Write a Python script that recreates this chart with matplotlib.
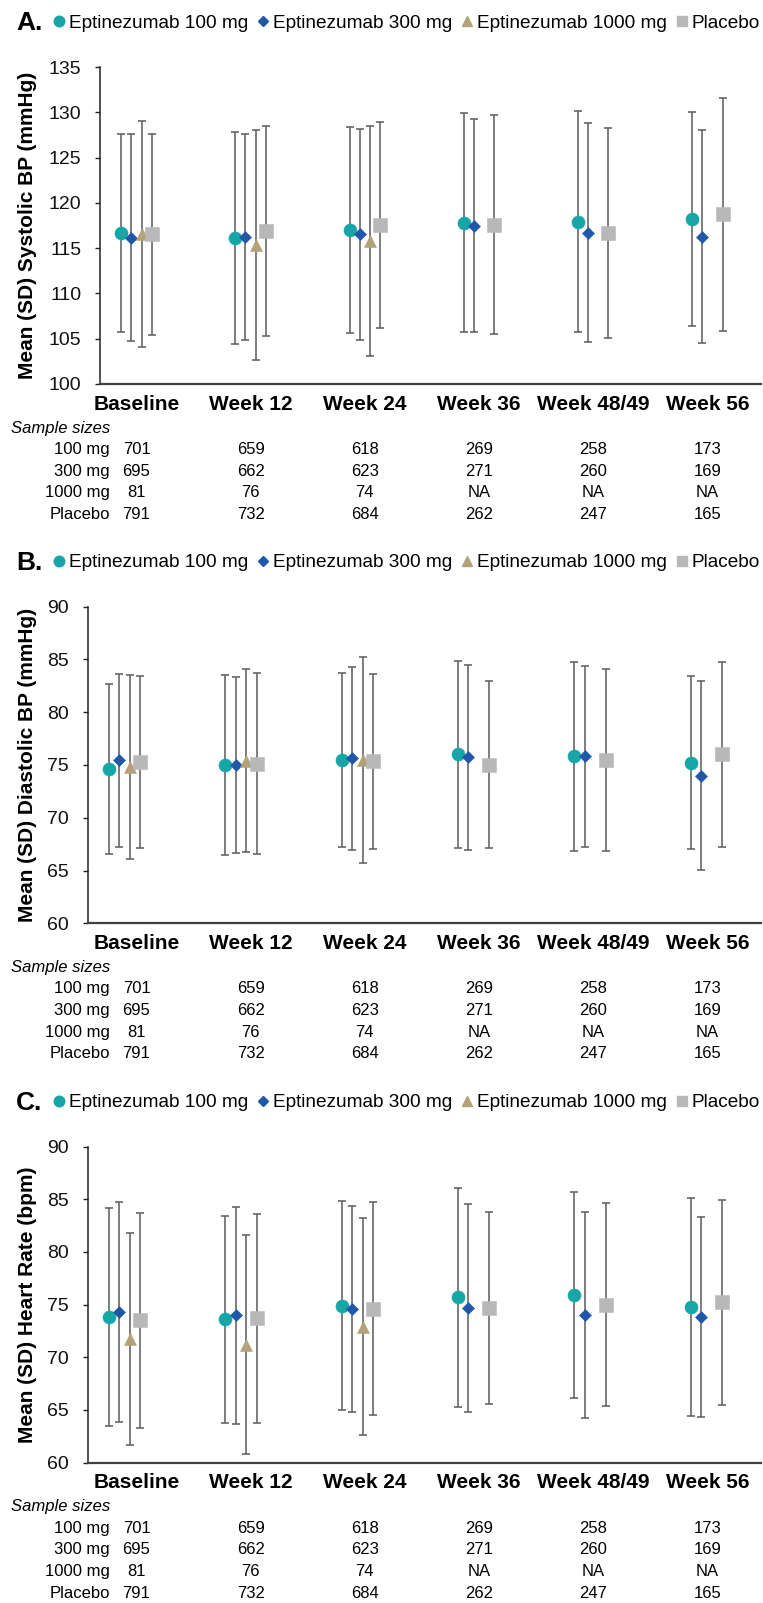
import numpy as np
import matplotlib
matplotlib.use("Agg")
import matplotlib.pyplot as plt
from matplotlib.lines import Line2D
from matplotlib.transforms import blended_transform_factory

plt.rcParams['font.family'] = ['Liberation Sans', 'DejaVu Sans']

nan = np.nan
categories = ["Baseline", "Week 12", "Week 24", "Week 36", "Week 48/49", "Week 56"]
groups = ["Eptinezumab 100 mg", "Eptinezumab 300 mg", "Eptinezumab 1000 mg", "Placebo"]
row_labels = ["100 mg", "300 mg", "1000 mg", "Placebo"]

# Panel A: systolic BP (mean, SD)
sbp_100_mean = [116.7, 116.1, 117.0, 117.8, 117.9, 118.2]
sbp_100_sd = [10.95, 11.7, 11.4, 12.1, 12.2, 11.8]
sbp_300_mean = [116.15, 116.25, 116.55, 117.5, 116.7, 116.25]
sbp_300_sd = [11.45, 11.35, 11.65, 11.8, 12.1, 11.75]
sbp_1000_mean = [116.55, 115.3, 115.8, nan, nan, nan]
sbp_1000_sd = [12.45, 12.7, 12.7, nan, nan, nan]
sbp_pbo_mean = [116.55, 116.9, 117.55, 117.6, 116.7, 118.75]
sbp_pbo_sd = [11.1, 11.6, 11.35, 12.1, 11.6, 12.85]

# Panel B: diastolic BP
dbp_100_mean = [74.6, 74.95, 75.43, 76.0, 75.8, 75.2]
dbp_100_sd = [8.04, 8.52, 8.24, 8.88, 8.97, 8.2]
dbp_300_mean = [75.43, 75.0, 75.62, 75.73, 75.8, 74.0]
dbp_300_sd = [8.21, 8.3, 8.64, 8.75, 8.6, 8.95]
dbp_1000_mean = [74.8, 75.4, 75.43, nan, nan, nan]
dbp_1000_sd = [8.72, 8.64, 9.75, nan, nan, nan]
dbp_pbo_mean = [75.25, 75.12, 75.34, 75.03, 75.5, 76.0]
dbp_pbo_sd = [8.15, 8.58, 8.3, 7.93, 8.6, 8.78]

# Panel C: heart rate
hr_100_mean = [73.8, 73.6, 74.9, 75.7, 75.9, 74.8]
hr_100_sd = [10.33, 9.85, 9.94, 10.4, 9.8, 10.36]
hr_300_mean = [74.3, 74.0, 74.6, 74.7, 74.0, 73.8]
hr_300_sd = [10.4, 10.3, 9.8, 9.85, 9.77, 9.47]
hr_1000_mean = [71.7, 71.2, 72.9, nan, nan, nan]
hr_1000_sd = [10.05, 10.4, 10.3, nan, nan, nan]
hr_pbo_mean = [73.5, 73.7, 74.6, 74.7, 75.0, 75.2]
hr_pbo_sd = [10.2, 9.9, 10.1, 9.1, 9.6, 9.72]

# Sample sizes
n_100 = ["701", "659", "618", "269", "258", "173"]
n_300 = ["695", "662", "623", "271", "260", "169"]
n_1000 = ["81", "76", "74", "NA", "NA", "NA"]
n_pbo = ["791", "732", "684", "262", "247", "165"]

W, H = 763, 1603
fig = plt.figure(figsize=(W / 100, H / 100), dpi=100)

def fx(px):
    return px / W

def fy(py):
    return 1 - py / H

colors = ["#17A6A7", "#1F58A8", "#B3A277", "#B8B8B8"]
markers = ["o", "D", "^", "s"]
msizes = [9.4, 5.9, 8.8, 9.4]
offsets = [-0.134, -0.046, 0.046, 0.134]
leg_ms = [7.6, 5.2, 7.4, 7.0]

panels = [
    dict(letter="A.", ylabel="Mean (SD) Systolic BP (mmHg)", ylim=(100, 135),
         means=[sbp_100_mean, sbp_300_mean, sbp_1000_mean, sbp_pbo_mean],
         sds=[sbp_100_sd, sbp_300_sd, sbp_1000_sd, sbp_pbo_sd],
         left=100, top=67, bottom=384),
    dict(letter="B.", ylabel="Mean (SD) Diastolic BP (mmHg)", ylim=(60, 90),
         means=[dbp_100_mean, dbp_300_mean, dbp_1000_mean, dbp_pbo_mean],
         sds=[dbp_100_sd, dbp_300_sd, dbp_1000_sd, dbp_pbo_sd],
         left=87.5, top=606.5, bottom=923.4),
    dict(letter="C.", ylabel="Mean (SD) Heart Rate (bpm)", ylim=(60, 90),
         means=[hr_100_mean, hr_300_mean, hr_1000_mean, hr_pbo_mean],
         sds=[hr_100_sd, hr_300_sd, hr_1000_sd, hr_pbo_sd],
         left=87.5, top=1146.5, bottom=1462.7),
]
sizes = [n_100, n_300, n_1000, n_pbo]
right = 761
xlim = (-0.32, 5.47)
x = np.arange(len(categories))

axes = []
for p in panels:
    ax = fig.add_axes([fx(p["left"]), fy(p["bottom"]), fx(right - p["left"]),
                       (p["bottom"] - p["top"]) / H])
    axes.append(ax)
    for i in range(4):
        ax.errorbar(x + offsets[i], p["means"][i], yerr=p["sds"][i], fmt="none",
                    ecolor="#606060", elinewidth=1.15, capsize=2.9, capthick=1.15, zorder=2)
    for i in range(4):
        ax.plot(x + offsets[i], p["means"][i], linestyle="none", marker=markers[i],
                ms=msizes[i], color=colors[i], mec=colors[i], mew=0.4, zorder=3)
    ax.set_xlim(*xlim)
    ax.set_ylim(*p["ylim"])
    ax.set_yticks(np.arange(p["ylim"][0], p["ylim"][1] + 1, 5))
    ax.set_xticks([])
    for s in ["top", "right"]:
        ax.spines[s].set_visible(False)
    ax.spines["left"].set_color("#222222")
    ax.spines["left"].set_linewidth(1.1)
    ax.spines["bottom"].set_color("#404040")
    ax.spines["bottom"].set_linewidth(1.6)
    ax.tick_params(axis="y", length=3.5, width=1.0, color="#222222", pad=10,
                   labelsize=14, labelcolor="#111111")

    # panel letter and legend
    ly = p["top"] - 44
    fig.text(fx(16), fy(ly), p["letter"], fontsize=19, fontweight="bold",
             ha="left", va="center")
    handles = [Line2D([], [], linestyle="none", marker=markers[i], ms=leg_ms[i],
                      color=colors[i], mec=colors[i]) for i in range(4)]
    fig.legend(handles, groups, loc="center left", bbox_to_anchor=(fx(54), fy(ly)),
               ncol=4, frameon=False, fontsize=13.65, handlelength=0.56,
               handletextpad=0.24, columnspacing=0.5, borderpad=0,
               borderaxespad=0)

    # y label
    fig.text(fx(28), fy((p["top"] + p["bottom"]) / 2), p["ylabel"], rotation=90,
             fontsize=15, fontweight="bold", ha="center", va="center")

# category labels and sample-size tables share panel A's horizontal scale
trans = blended_transform_factory(axes[0].transData, fig.transFigure)
for p in panels:
    b = p["bottom"]
    for j, c in enumerate(categories):
        fig.text(j, fy(b + 20), c, transform=trans, fontsize=15, fontweight="bold",
                 ha="center", va="center")
    fig.text(fx(11), fy(b + 44), "Sample sizes", fontsize=12, style="italic",
             ha="left", va="center")
    for r, lab in enumerate(row_labels):
        yy = fy(b + 65.5 + 21.7 * r)
        fig.text(fx(110), yy, lab, fontsize=12, ha="right", va="center")
        for j in range(len(categories)):
            fig.text(j, yy, sizes[r][j], transform=trans, fontsize=12,
                     ha="center", va="center")

fig.savefig("out.png", dpi=100)
